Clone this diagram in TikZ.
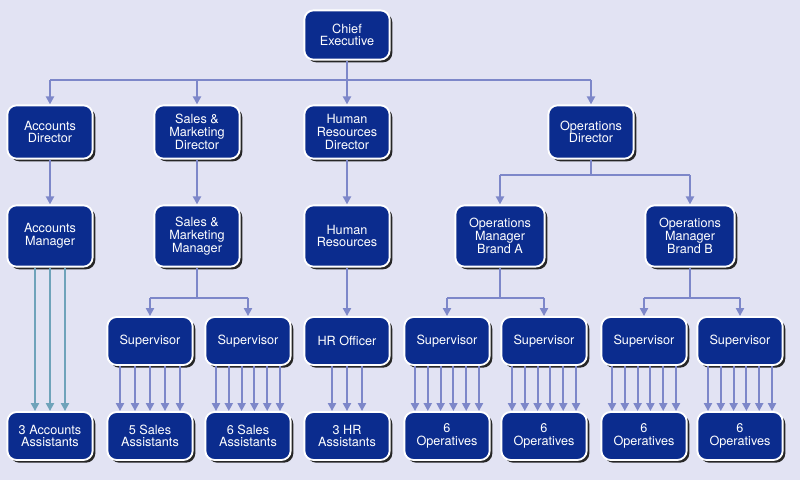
\documentclass[tikz,border=0pt]{standalone}
\usepackage{fontspec}
\setmainfont{TeX Gyre Heros}
\usetikzlibrary{shadows,arrows.meta}
\definecolor{bgcol}{HTML}{E2E3F3}
\definecolor{boxcol}{HTML}{0B2C8E}
\definecolor{linecol}{HTML}{7D87C9}
\definecolor{tealcol}{HTML}{6FA3BA}

\tikzset{
  post/.style={rounded corners=7pt, fill=boxcol, draw=white, line width=1.4pt,
    text=white, align=center, font=\fontsize{9.5}{9.5}\selectfont,
    minimum width=64pt, minimum height=40pt, inner sep=1pt,
    drop shadow={shadow xshift=2pt, shadow yshift=-2pt, fill=black!85, opacity=1}},
  low/.style={post, minimum height=36pt},
  link/.style={draw=linecol, line width=1.6pt, -{Triangle[width=6pt,length=6pt]}},
  bar/.style={draw=linecol, line width=1.6pt}
}

\begin{document}
\begin{tikzpicture}[x=0.75pt,y=-0.75pt]
    \fill [bgcol] (0,0) rectangle (800,480);
    \useasboundingbox (0,0) rectangle (800,480);

    % top
    \node [post, minimum height=37pt] (chief) at (347,35) {Chief\\Executive};

    % directors
    \node [post] (accdir) at (50,132) {Accounts\\Director};
    \node [post] (salesdir) at (197,132) {Sales \&\\Marketing\\Director};
    \node [post] (hrdir) at (347,132) {Human\\Resources\\Director};
    \node [post] (opsdir) at (591,132) {Operations\\Director};

    % managers
    \node [post, minimum height=46pt] (accman) at (50,236) {Accounts\\Manager};
    \node [post, minimum height=46pt] (salesman) at (197,236) {Sales \&\\Marketing\\Manager};
    \node [post, minimum height=46pt] (hrman) at (347,236) {Human\\Resources};
    \node [post, minimum height=46pt, minimum width=67pt] (opsa) at (500,236) {Operations\\Manager\\Brand A};
    \node [post, minimum height=46pt, minimum width=67pt] (opsb) at (690,236) {Operations\\Manager\\Brand B};

    % supervisors
    \node [low] (supa) at (150,341) {Supervisor};
    \node [low] (supb) at (248,341) {Supervisor};
    \node [low] (hroff) at (347,341) {HR Officer};
    \node [low] (supc) at (447,341) {Supervisor};
    \node [low] (supd) at (544,341) {Supervisor};
    \node [low] (supe) at (644,341) {Supervisor};
    \node [low] (supf) at (740,341) {Supervisor};

    % staff
    \node [low] (accstaff) at (50,436) {3 Accounts\\Assistants};
    \node [low] (salesa) at (150,436) {5 Sales\\Assistants};
    \node [low] (salesb) at (248,436) {6 Sales\\Assistants};
    \node [low] (hrstaff) at (347,436) {3 HR\\Assistants};
    \node [low] (opa) at (447,436) {6\\Operatives};
    \node [low] (opb) at (544,436) {6\\Operatives};
    \node [low] (opc) at (644,436) {6\\Operatives};
    \node [low] (opd) at (740,436) {6\\Operatives};

    % top bar
    \coordinate (topbar) at (347,80);
    \draw [bar] (chief.south) -- (topbar);
    \draw [bar] (50,80) -- (591,80);
    \foreach \n in {accdir,salesdir,hrdir,opsdir}
        \draw [link] (\n.north |- topbar) -- (\n.north);

    % directors to managers
    \draw [link] (accdir) -- (accman);
    \draw [link] (salesdir) -- (salesman);
    \draw [link] (hrdir) -- (hrman);
    \coordinate (opsbar) at (591,175);
    \draw [bar] (opsdir.south) -- (opsbar);
    \draw [bar] (opsa.north |- opsbar) -- (opsb.north |- opsbar);
    \draw [link] (opsa.north |- opsbar) -- (opsa.north);
    \draw [link] (opsb.north |- opsbar) -- (opsb.north);

    % managers to supervisors
    \draw [link] (hrman) -- (hroff);
    \foreach \m/\p/\q in {salesman/supa/supb, opsa/supc/supd, opsb/supe/supf} {
        \coordinate (\m bar) at ([yshift=-22.5pt]\m.south);
        \draw [bar] (\m.south) -- (\m bar);
        \draw [bar] (\p.north |- \m bar) -- (\q.north |- \m bar);
        \draw [link] (\p.north |- \m bar) -- (\p.north);
        \draw [link] (\q.north |- \m bar) -- (\q.north);
    }

    % accounts manager to staff
    \foreach \dx in {-11.25pt,0pt,11.25pt}
        \draw [link, draw=tealcol] ([xshift=\dx]accman.south) -- ([xshift=\dx]accstaff.north);

    % supervisors to staff
    \foreach \dx in {-22.5pt,-11.25pt,0pt,11.25pt,22.5pt}
        \draw [link] ([xshift=\dx]supa.south) -- ([xshift=\dx]salesa.north);
    \foreach \dx in {-11.25pt,0pt,11.25pt}
        \draw [link] ([xshift=\dx]hroff.south) -- ([xshift=\dx]hrstaff.north);
    \foreach \s/\t in {supb/salesb, supc/opa, supd/opb, supe/opc, supf/opd}
        \foreach \dx in {-24pt,-14.4pt,-4.8pt,4.8pt,14.4pt,24pt}
            \draw [link] ([xshift=\dx]\s.south) -- ([xshift=\dx]\t.north);
\end{tikzpicture}
\end{document}
